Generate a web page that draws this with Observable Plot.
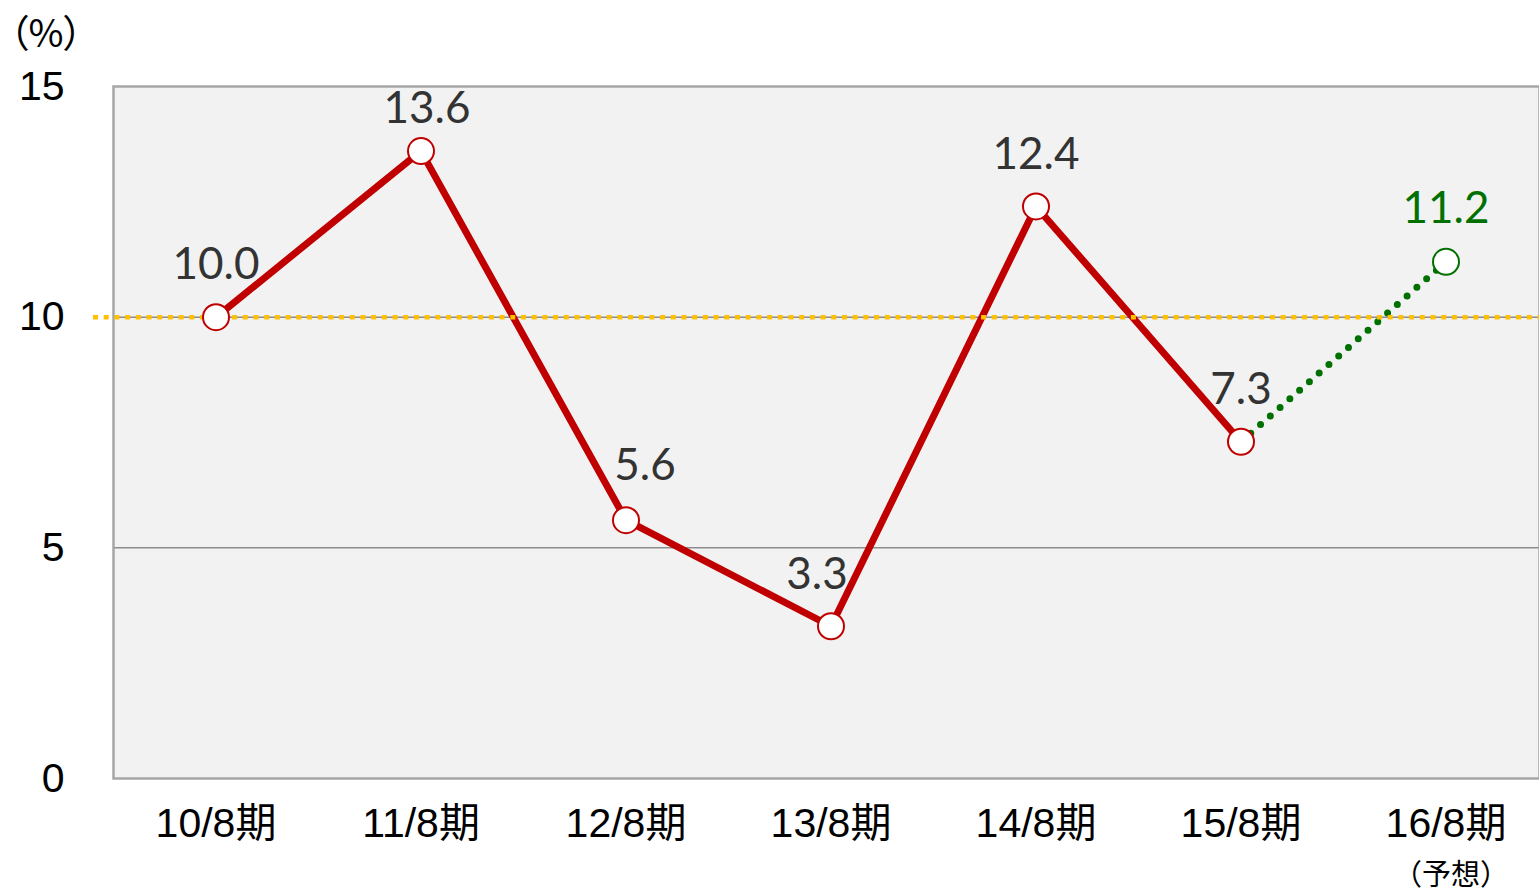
<!DOCTYPE html>
<html>
<head>
<meta charset="utf-8">
<script src="https://cdn.jsdelivr.net/npm/d3@7"></script>
<script src="https://cdn.jsdelivr.net/npm/@observablehq/plot@0.6"></script>
<style>
  html, body { margin: 0; padding: 0; background: #fff; overflow: hidden; }
  #chart { position: relative; width: 1539px; height: 892px; }
  .unit-label text, text.unit-label { font-feature-settings: "palt"; }
</style>
</head>
<body>
<div id="chart"></div>
<script>
const periods = ["10/8期", "11/8期", "12/8期", "13/8期", "14/8期", "15/8期", "16/8期"];
const actualPeriods = ["10/8期", "11/8期", "12/8期", "13/8期", "14/8期", "15/8期"];
const actualValues = [10.0, 13.6, 5.6, 3.3, 12.4, 7.3];
const forecastPeriods = ["15/8期", "16/8期"];
const forecastValues = [7.3, 11.2];
const yTicks = [0, 5, 10, 15];
const gridValues = [5, 10];
const referenceLine = [10];
const unitLabel = "（%）";
const forecastNote = "（予想）";

const actual = actualPeriods.map((p, i) => ({period: p, value: actualValues[i]}));
const forecast = forecastPeriods.map((p, i) => ({period: p, value: forecastValues[i]}));
const forecastPoint = forecast.slice(-1);

const labelFont = "Lato, 'Open Sans', sans-serif";
const axisFont = "'Liberation Sans', Arial, 'Noto Sans CJK JP', sans-serif";
const labelSize = 44;
const labelColor = "#333333";

const chart = Plot.plot({
  width: 1539,
  height: 892,
  marginLeft: 113,
  marginTop: 86,
  marginBottom: 114,
  marginRight: 0,
  style: {fontFamily: axisFont, fontSize: "41px", color: "#000", background: "transparent", overflow: "visible"},
  x: {type: "band", domain: periods, range: [113, 1548], padding: 0},
  y: {domain: [0, 15], range: [778, 86]},
  marks: [
    Plot.frame({fill: "#f2f2f2"}),
    Plot.ruleY(gridValues, {stroke: "#8c8c8c", strokeWidth: 1.5}),
    Plot.frame({stroke: "#a6a6a6", strokeWidth: 2.5}),
    Plot.axisY({ticks: yTicks, tickSize: 0, tickPadding: 49, fontSize: 41, fontFamily: axisFont, fill: "#000", label: null}),
    Plot.axisX({tickSize: 0, tickPadding: 29, fontSize: 41, fontFamily: axisFont, fill: "#000", label: null}),
    Plot.line(forecast, {x: "period", y: "value", stroke: "#007000", strokeWidth: 7, strokeDasharray: "0 13", strokeLinecap: "round"}),
    Plot.line(actual, {x: "period", y: "value", stroke: "#c00000", strokeWidth: 7, strokeLinejoin: "miter"}),
    Plot.ruleY(referenceLine, {stroke: "#ffc000", strokeWidth: 4.5, strokeDasharray: "5 5.7", insetLeft: -20}),
    Plot.dot(actual, {x: "period", y: "value", r: 13, fill: "#fff", stroke: "#c00000", strokeWidth: 2}),
    Plot.dot(forecastPoint, {x: "period", y: "value", r: 13, fill: "#fff", stroke: "#007000", strokeWidth: 2}),
    Plot.text(actual.filter(d => ![13.6, 5.6, 3.3].includes(d.value)), {x: "period", y: "value", text: d => d.value.toFixed(1), dy: -52, fontSize: labelSize, fontFamily: labelFont, fill: labelColor}),
    Plot.text(actual.filter(d => d.value === 13.6), {x: "period", y: "value", text: d => d.value.toFixed(1), dy: -42, dx: 6, fontSize: labelSize, fontFamily: labelFont, fill: labelColor}),
    Plot.text(actual.filter(d => d.value === 5.6), {x: "period", y: "value", text: d => d.value.toFixed(1), dy: -54, dx: 19, fontSize: labelSize, fontFamily: labelFont, fill: labelColor}),
    Plot.text(actual.filter(d => d.value === 3.3), {x: "period", y: "value", text: d => d.value.toFixed(1), dy: -51, dx: -14, fontSize: labelSize, fontFamily: labelFont, fill: labelColor}),
    Plot.text(forecastPoint, {x: "period", y: "value", text: d => d.value.toFixed(1), dy: -53, fontSize: labelSize, fontFamily: labelFont, fill: "#007000"}),
    Plot.text([unitLabel], {className: "unit-label", frameAnchor: "top-left", lineAnchor: "middle", text: d => d, dx: -104, dy: -52, textAnchor: "start", fontSize: 38, fontFamily: "'Noto Sans CJK JP', sans-serif", fill: "#000"}),
    Plot.text([forecastNote], {x: () => periods[periods.length - 1], frameAnchor: "bottom", lineAnchor: "middle", text: d => d, dy: 97, dx: 5, fontSize: 29, fontFamily: axisFont, fill: "#000"})
  ]
});
document.getElementById("chart").appendChild(chart);
</script>
</body>
</html>
